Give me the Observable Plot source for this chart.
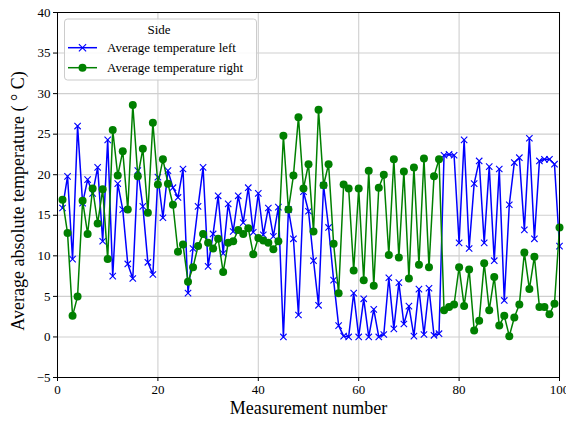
<!DOCTYPE html>
<html><head><meta charset="utf-8">
<script src="https://cdn.jsdelivr.net/npm/d3@7"></script>
<script src="https://cdn.jsdelivr.net/npm/@observablehq/plot@0.6"></script>
<style>
body{margin:0;background:#fff}
#chart{position:relative;width:566px;height:422px}
</style>
</head><body><div id="chart"></div>
<script>
// Average temperature left (blue), measurements 1..100
const leftTemps = [
  15.9, 19.8, 9.6, 26.0, 16.5, 19.4, 17.7, 20.9, 11.8, 24.3,
  7.5, 18.9, 15.7, 9.0, 7.2, 20.5, 16.1, 9.2, 7.7, 19.7,
  14.7, 20.5, 18.4, 17.2, 20.7, 5.4, 10.9, 16.1, 20.9, 8.7,
  12.7, 17.4, 10.3, 16.4, 13.0, 17.4, 14.1, 18.4, 12.9, 17.7,
  12.6, 15.9, 12.4, 16.0, 0.0, 15.7, 12.1, 2.7, 17.9, 15.5,
  9.4, 3.9, 18.7, 13.5, 7.0, 1.4, 0.1, 0.0, 5.4, 0.0,
  4.7, 0.0, 3.4, 0.0, 0.3, 7.3, 1.0, 6.7, 1.6, 3.8,
  0.1, 5.9, 0.3, 6.0, 0.2, 0.4, 22.4, 22.5, 22.4, 11.6,
  24.3, 10.9, 18.9, 21.7, 11.6, 21.0, 9.4, 20.7, 4.5, 16.3,
  21.5, 22.1, 13.2, 24.5, 12.1, 21.7, 21.9, 21.9, 21.3, 11.2
];
// Average temperature right (green), measurements 1..100
const rightTemps = [
  16.9, 12.8, 2.6, 5.0, 16.8, 12.7, 18.3, 14.0, 18.2, 9.6,
  25.5, 19.9, 22.9, 15.7, 28.6, 19.8, 23.2, 15.3, 26.4, 18.8,
  21.9, 18.9, 16.3, 10.5, 11.4, 6.8, 8.6, 11.2, 12.7, 11.6,
  10.9, 12.1, 8.0, 11.6, 11.8, 13.2, 12.7, 13.4, 10.2, 12.2,
  11.9, 11.6, 10.8, 11.8, 24.8, 15.7, 19.9, 27.1, 18.3, 21.3,
  13.0, 28.0, 18.7, 21.3, 11.5, 5.4, 18.8, 18.3, 8.2, 18.3,
  7.0, 20.5, 6.3, 18.4, 20.0, 10.1, 21.9, 9.8, 20.4, 7.2,
  20.9, 8.9, 22.0, 8.6, 19.8, 21.9, 3.3, 3.7, 4.0, 8.6,
  3.8, 8.3, 0.8, 2.0, 9.1, 3.3, 7.4, 1.4, 2.6, 0.1,
  2.4, 4.0, 10.4, 5.9, 9.9, 3.7, 3.7, 2.8, 4.1, 13.5
];
const xTicks = [0, 20, 40, 60, 80, 100];
const yTicks = [-5, 0, 5, 10, 15, 20, 25, 30, 35, 40];
const seriesNames = ["Average temperature left", "Average temperature right"];
const legendTitle = "Side";
const xLabel = "Measurement number";
const yLabel = "Average absolute temperature ( \u00B0 C)";

const leftData = leftTemps.map((v, i) => ({x: i + 1, y: v}));
const rightData = rightTemps.map((v, i) => ({x: i + 1, y: v}));

const BLUE = "#0000ff", GREEN = "#008000";
const FONT = "'Liberation Serif', 'DejaVu Serif', serif";

const svg = Plot.plot({
  width: 566, height: 422,
  marginLeft: 57, marginRight: 7, marginTop: 12, marginBottom: 45,
  style: {fontFamily: FONT, fontSize: "13px", background: "white", color: "black", overflow: "visible"},
  x: {domain: [0, 100]},
  y: {domain: [-5, 40]},
  marks: [
    Plot.gridX(xTicks, {stroke: "#cfcfcf", strokeOpacity: 1, strokeWidth: 1.1}),
    Plot.gridY(yTicks, {stroke: "#cfcfcf", strokeOpacity: 1, strokeWidth: 1.1}),
    Plot.lineY(leftData, {x: "x", y: "y", stroke: BLUE, strokeWidth: 1.5}),
    Plot.dot(leftData, {x: "x", y: "y", symbol: "times", r: 3, stroke: BLUE, strokeWidth: 1.1}),
    Plot.lineY(rightData, {x: "x", y: "y", stroke: GREEN, strokeWidth: 1.5}),
    Plot.dot(rightData, {x: "x", y: "y", r: 4, fill: GREEN, stroke: "none"}),
    Plot.frame({stroke: "black", strokeWidth: 1}),
    Plot.axisX(xTicks, {tickSize: 4, tickPadding: 3, label: null, fontSize: 13}),
    Plot.axisY(yTicks, {tickSize: 4, tickPadding: 3, label: null, fontSize: 13}),
    Plot.text([xLabel], {frameAnchor: "bottom", dy: 36, text: d => d, fontSize: 18, textAnchor: "middle"}),
    Plot.text([yLabel], {frameAnchor: "left", dx: -39, dy: 6, rotate: -90, text: d => d, fontSize: 18, textAnchor: "middle"})
  ]
});
document.getElementById("chart").appendChild(svg);

// Legend (matplotlib-style box, upper left inside the axes)
const lg = d3.select(svg).append("g").attr("font-family", FONT).attr("font-size", 13);
lg.append("rect").attr("x", 64.5).attr("y", 19).attr("width", 192).attr("height", 61)
  .attr("rx", 3).attr("fill", "white").attr("fill-opacity", 0.85)
  .attr("stroke", "#cccccc").attr("stroke-width", 1);
lg.append("text").attr("x", 159).attr("y", 29.5).attr("text-anchor", "middle")
  .attr("dominant-baseline", "central").text(legendTitle);
const entries = [
  {name: seriesNames[0], color: BLUE, sym: "x", y: 47.7},
  {name: seriesNames[1], color: GREEN, sym: "o", y: 67.7}
];
for (const e of entries) {
  lg.append("line").attr("x1", 68).attr("x2", 97).attr("y1", e.y).attr("y2", e.y)
    .attr("stroke", e.color).attr("stroke-width", 1.5);
  if (e.sym === "x") {
    lg.append("path").attr("d", d3.symbol(d3.symbolTimes, 36)())
      .attr("transform", `translate(82.5,${e.y})`).attr("fill", "none")
      .attr("stroke", e.color).attr("stroke-width", 1.1);
  } else {
    lg.append("circle").attr("cx", 82.5).attr("cy", e.y).attr("r", 4).attr("fill", e.color);
  }
  lg.append("text").attr("x", 107).attr("y", e.y).attr("text-anchor", "start")
    .attr("dominant-baseline", "central").text(e.name);
}
</script>
</body></html>
